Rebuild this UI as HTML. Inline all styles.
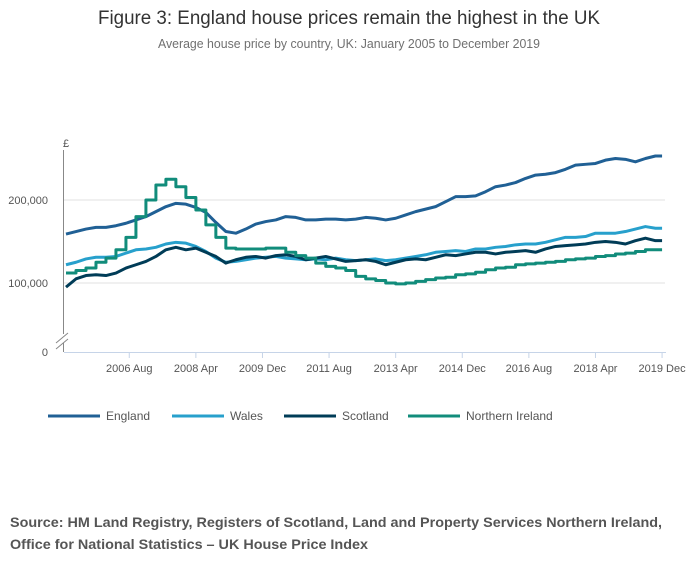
<!DOCTYPE html>
<html><head><meta charset="utf-8"><style>
body{margin:0;background:#fff;width:700px;height:574px;overflow:hidden;font-family:"Liberation Sans",sans-serif}
</style></head><body>
<svg id="chart" width="700" height="574" xmlns="http://www.w3.org/2000/svg" font-family="Liberation Sans, sans-serif">
<text x="349" y="24" text-anchor="middle" font-size="19" fill="#333" textLength="502" lengthAdjust="spacingAndGlyphs">Figure 3: England house prices remain the highest in the UK</text>
<text x="349" y="48" text-anchor="middle" font-size="12.5" fill="#707070" textLength="382" lengthAdjust="spacingAndGlyphs">Average house price by country, UK: January 2005 to December 2019</text>
<g id="grid"></g>
<g id="axes"></g>
<g id="series"></g>
<g id="legend"></g>
<text x="10" y="527" font-size="14" font-weight="bold" fill="#555" textLength="652" lengthAdjust="spacingAndGlyphs">Source: HM Land Registry, Registers of Scotland, Land and Property Services Northern Ireland,</text>
<text x="10" y="549" font-size="14" font-weight="bold" fill="#555" textLength="358" lengthAdjust="spacingAndGlyphs">Office for National Statistics – UK House Price Index</text>
</svg>
<script>
const seriesNames = ["England","Wales","Scotland","Northern Ireland"];
const seriesColors = ["#206095","#27a0cc","#003c57","#118c7b"];
const england = [159,162,165,167,167,169,172,176,180,186,192,196,195,191,185,173,162,160,165,171,174,176,180,179,176,176,177,177,176,177,179,178,176,178,182,186,189,192,198,204,204,205,210,216,218,221,226,230,231,233,237,242,243,244,248,250,249,246,250,253,253];
const wales = [122,125,129,131,131,132,136,140,141,143,147,149,148,144,138,130,125,126,128,130,131,132,130,129,128,129,128,130,128,127,128,129,127,128,130,132,134,137,138,139,138,141,141,143,144,146,147,147,149,152,155,155,156,160,160,160,162,165,168,166,166];
const scotland = [95,105,109,110,109,112,118,122,126,132,140,143,140,142,137,132,124,128,131,132,130,133,134,132,128,130,132,129,126,127,128,126,122,125,128,129,128,131,134,133,135,137,137,135,137,138,139,137,141,144,145,146,147,149,150,149,147,151,154,151,151];
const ni = [112,115,118,125,130,140,155,180,200,218,225,216,203,188,170,155,142,141,141,141,142,142,137,133,130,124,120,118,115,108,105,103,100,99,100,102,104,106,107,110,111,113,116,118,119,122,123,124,125,126,128,129,130,132,133,135,136,138,140,140,140];
const yTicks = [0,100000,200000];
const yTickLabels = ["0","100,000","200,000"];
const xTickMonths = [19,39,59,79,99,119,139,159,179];
const xTickLabels = ["2006 Aug","2008 Apr","2009 Dec","2011 Aug","2013 Apr","2014 Dec","2016 Aug","2018 Apr","2019 Dec"];

const NS="http://www.w3.org/2000/svg";
function xs(m){return 66+m*3.33;}
function ys(v){return v===0?352:283-(v-100)*0.83;}
function monthOf(i,n){return i===n-1?179:i*3;}
function mk(tag,attrs,parent){const e=document.createElementNS(NS,tag);for(const k in attrs)e.setAttribute(k,attrs[k]);parent.appendChild(e);return e;}
const grid=document.getElementById('grid'),axes=document.getElementById('axes'),ser=document.getElementById('series'),leg=document.getElementById('legend');
yTicks.forEach((t,i)=>{
  const v=t/1000;const y=ys(v);
  if(t>0){const l=mk('line',{x1:64,x2:665,y1:y,y2:y,stroke:'#e2e2e2','stroke-width':1},grid);
  
  }
  const tx=mk('text',{x:48,y:y+4,'text-anchor':'end','font-size':11,fill:'#555'},axes);tx.textContent=yTickLabels[i];
  
  
});
const ya=mk('line',{x1:63.5,x2:63.5,y1:150,y2:334,stroke:'#888','stroke-width':1},axes);


const br=mk('path',{d:'M56,343 L68,333 M56,349 L68,339 M63.5,343 V352',stroke:'#888','stroke-width':1,fill:'none'},axes);


const pound=mk('text',{x:63,y:147,'font-size':11,fill:'#555'},axes);pound.textContent='£';


const xa=mk('line',{x1:64,x2:666,y1:352.5,y2:352.5,stroke:'#c6d4e8','stroke-width':1},axes);


xTickMonths.forEach((m,i)=>{
  const x=xs(m);
  const tk=mk('line',{x1:x,x2:x,y1:352,y2:358,stroke:'#c6d4e8'},axes);
  
  
  const tx=mk('text',{x:x,y:372,'text-anchor':'middle','font-size':11,fill:'#555'},axes);tx.textContent=xTickLabels[i];
  
  
});
const all=[england,wales,scotland,ni];
all.forEach((arr,si)=>{
  let d='';const n=arr.length;
  arr.forEach((v,i)=>{
    const x=xs(monthOf(i,n)),y=ys(v);
    if(i===0)d+='M'+x+','+y;
    else if(si===3){d+=' H'+x+' V'+y;}
    else d+=' L'+x+','+y;
  });
  const p=mk('path',{d:d,fill:'none',stroke:seriesColors[si],'stroke-width':3,'stroke-linejoin':'round'},ser);
  
  
});
const legX=[48,172,284,408];
seriesNames.forEach((nm,i)=>{
  const g=mk('g',{},leg);
  
  
  mk('line',{x1:legX[i],x2:legX[i]+52,y1:416,y2:416,stroke:seriesColors[i],'stroke-width':3},g);
  const t=mk('text',{x:legX[i]+58,y:420,'font-size':12,fill:'#555'},g);t.textContent=nm;
});
</script>
</body></html>
